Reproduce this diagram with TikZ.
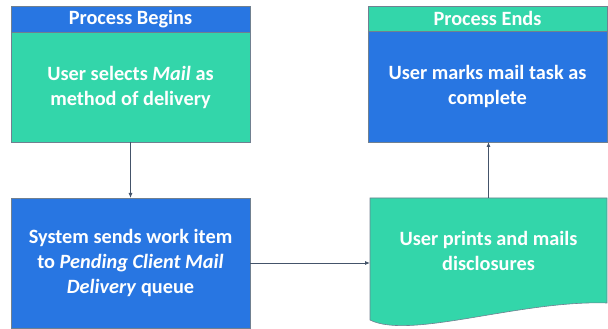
\documentclass[tikz,border=0pt]{standalone}
\usepackage{fontspec}
\setmainfont{Carlito}
\usepackage{xcolor}
\usetikzlibrary{arrows.meta,positioning}

\definecolor{tealfill}{RGB}{51,214,170}
\definecolor{bluefill}{RGB}{40,118,226}
\definecolor{edgegray}{RGB}{112,128,144}
\definecolor{slate}{RGB}{68,84,106}

\begin{document}
\begin{tikzpicture}[
    x=1pt, y=1pt,
    node distance=0pt,
    caixa/.style={draw=edgegray, line width=0.6pt, align=center, inner sep=0pt,
        outer sep=0pt, minimum width=239pt, text=white,
        font=\bfseries\fontsize{20.3}{25}\selectfont},
    cabeca/.style={caixa, minimum height=26pt},
    fluxo/.style={-{Latex[length=5pt, width=4pt]}, line width=0.8pt, slate}
]
    \useasboundingbox (0,0) rectangle (608,329);

    % left column
    \node[cabeca, fill=bluefill, anchor=north west] (beghead) at (11,323) {Process Begins};
    \node[caixa, fill=tealfill, minimum height=110pt, below=of beghead] (begbody)
        {User selects \textit{Mail} as\\method of delivery};
    \node[caixa, fill=bluefill, minimum height=130pt, anchor=north west] (sendbox) at (11,131)
        {System sends work item\\to \textit{Pending Client Mail}\\\textit{Delivery} queue};

    % right column
    \node[cabeca, fill=tealfill, minimum height=25pt, anchor=north west] (endhead) at (368,323) {Process Ends};
    \node[caixa, fill=bluefill, minimum height=111pt, below=of endhead] (endbody)
        {User marks mail task as\\complete};
    \node[caixa, draw=none, minimum width=237pt, minimum height=105pt, anchor=north west] (docbox) at (370,131) {};
    \fill[tealfill, draw=edgegray, line width=0.6pt] (docbox.north west) -- (docbox.north east)
        -- (docbox.south east) .. controls +(-87,3) and +(40,-20) .. ([yshift=-17pt]docbox.south west) -- cycle;
    \node[caixa, draw=none, minimum width=237pt, minimum height=105pt] (doctext) at (docbox.center)
        {User prints and mails\\disclosures};

    \draw[fluxo] (begbody) -- (sendbox);
    \draw[fluxo] (sendbox.east) -- (sendbox.east -| docbox.west);
    \draw[fluxo] (docbox.north) -- (docbox.north |- endbody.south);
\end{tikzpicture}
\end{document}
